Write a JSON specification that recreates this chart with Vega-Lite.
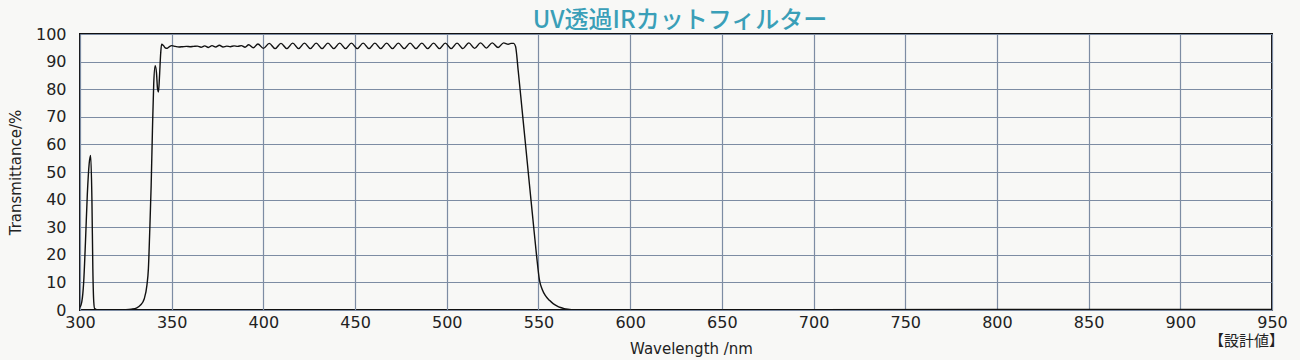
{
  "$schema": "https://vega.github.io/schema/vega-lite/v6.json",
  "width": 1192,
  "height": 276,
  "autosize": {"type": "none"},
  "padding": {"left": 80, "top": 34, "right": 28, "bottom": 50},
  "background": "#f8f8f6",
  "config": {
    "view": {"stroke": "#111111", "strokeWidth": 2},
    "font": "DejaVu Sans",
    "axis": {"labelFont": "DejaVu Sans", "titleFont": "DejaVu Sans", "labelColor": "#222222", "titleColor": "#222222", "titleFontWeight": "normal"}
  },
  "title": {
    "text": "UV透過IRカットフィルター",
    "color": "#3a9fb8",
    "fontSize": 24,
    "font": "Noto Sans CJK JP",
    "fontWeight": 500,
    "anchor": "middle",
    "offset": -7,
    "dx": 4
  },
  "encoding": {
    "x": {"field": "wl", "type": "quantitative",
      "scale": {"domain": [300, 950], "nice": false, "zero": false},
      "axis": {"values": [300,350,400,450,500,550,600,650,700,750,800,850,900,950], "title": "Wavelength /nm", "titleFontSize": 15, "titlePadding": 11, "titleX": 611, "labelFontSize": 16, "labelPadding": 4, "ticks": false, "domain": false, "grid": true, "gridColor": "#7d8ca3", "gridWidth": 1.2, "gridOpacity": 1, "labelFlush": false, "labelOverlap": false}},
    "y": {"field": "t", "type": "quantitative",
      "scale": {"domain": [0, 100], "nice": false},
      "axis": {"values": [0,10,20,30,40,50,60,70,80,90,100], "title": "Transmittance/%", "titleFontSize": 15, "titlePadding": 12, "labelFontSize": 16, "labelPadding": 14, "ticks": false, "domain": false, "grid": true, "gridColor": "#7d8ca3", "gridWidth": 1.2, "gridOpacity": 1, "labelFlush": false, "labelOverlap": false}}
  },
  "layer": [
    {
      "data": {"values": [
        {"wl":300,"t":1},{"wl":301,"t":3},{"wl":302,"t":10},{"wl":303,"t":25},{"wl":304,"t":42},{"wl":305,"t":53},{"wl":305.8,"t":56},{"wl":306.5,"t":40},{"wl":307,"t":15},{"wl":307.5,"t":3},{"wl":308,"t":0.5},{"wl":310,"t":0},{"wl":320,"t":0},{"wl":325,"t":0.1},{"wl":328,"t":0.3},{"wl":331,"t":0.8},{"wl":333,"t":1.8},{"wl":335,"t":4},{"wl":336.5,"t":9},{"wl":337.3,"t":15},{"wl":338,"t":28},{"wl":338.8,"t":45},{"wl":339.5,"t":65},{"wl":340.2,"t":82},{"wl":341,"t":88.5},{"wl":341.7,"t":86},{"wl":342.3,"t":80},{"wl":342.8,"t":79},{"wl":343.3,"t":84},{"wl":344,"t":93},{"wl":344.5,"t":96.3},{"wl":345.5,"t":95.8},{"wl":346.5,"t":95},{"wl":347.5,"t":94.8},{"wl":348.5,"t":95.3},{"wl":350,"t":95.8},{"wl":352,"t":95.5},{"wl":354,"t":95.3},{"wl":356,"t":95.4},{"wl":358,"t":95.5},{"wl":360,"t":95.4},{"wl":362,"t":95.5},{"wl":364,"t":95.6},{"wl":366,"t":95.2},{"wl":368,"t":95.7},{"wl":370,"t":95.1},{"wl":372,"t":95.8},{"wl":374,"t":95.3},{"wl":376,"t":95.9},{"wl":378,"t":95.3},{"wl":380,"t":95.6},{"wl":382,"t":95.4},{"wl":384,"t":95.7},{"wl":386,"t":95.5},{"wl":388,"t":95.8},{"wl":390,"t":95.2},{"wl":392,"t":96.1},{"wl":394.5,"t":95.0},{"wl":397,"t":96.4},{"wl":400,"t":94.8},{"wl":403.2,"t":96.6},{"wl":406.4,"t":94.7},{"wl":409.6,"t":96.6},{"wl":412.8,"t":94.7},{"wl":416,"t":96.7},{"wl":419.2,"t":94.7},{"wl":422.4,"t":96.7},{"wl":425.6,"t":94.7},{"wl":428.8,"t":96.7},{"wl":432,"t":94.7},{"wl":435.2,"t":96.7},{"wl":438.4,"t":94.7},{"wl":441.6,"t":96.7},{"wl":444.8,"t":94.7},{"wl":448,"t":96.7},{"wl":451.2,"t":94.7},{"wl":454.4,"t":96.7},{"wl":457.6,"t":94.7},{"wl":460.8,"t":96.7},{"wl":464,"t":94.7},{"wl":467.2,"t":96.7},{"wl":470.4,"t":94.7},{"wl":473.6,"t":96.7},{"wl":476.8,"t":94.7},{"wl":480,"t":96.7},{"wl":483.2,"t":94.7},{"wl":486.4,"t":96.7},{"wl":489.6,"t":94.7},{"wl":492.8,"t":96.7},{"wl":496,"t":94.7},{"wl":499.2,"t":96.7},{"wl":502.4,"t":94.7},{"wl":505.6,"t":96.7},{"wl":508.8,"t":94.7},{"wl":512,"t":96.8},{"wl":515.2,"t":94.8},{"wl":518.4,"t":96.8},{"wl":521.6,"t":94.9},{"wl":524.8,"t":96.8},{"wl":528,"t":95.1},{"wl":531,"t":96.8},{"wl":533.5,"t":96.3},{"wl":535,"t":96.6},{"wl":536.5,"t":96.6},{"wl":537.5,"t":95.5},{"wl":539,"t":86.4},{"wl":541,"t":73},{"wl":543,"t":59.6},{"wl":545,"t":46},{"wl":547,"t":32.7},{"wl":549,"t":19.5},{"wl":550.5,"t":11},{"wl":552,"t":7.5},{"wl":554,"t":5},{"wl":556,"t":3.5},{"wl":558,"t":2.3},{"wl":560,"t":1.5},{"wl":562,"t":0.9},{"wl":564,"t":0.5},{"wl":566,"t":0.25},{"wl":568,"t":0.1},{"wl":570,"t":0.05},{"wl":600,"t":0},{"wl":700,"t":0.1},{"wl":800,"t":0.2},{"wl":950,"t":0.2}
      ]},
      "mark": {"type": "line", "color": "#111111", "strokeWidth": 1.4, "interpolate": "monotone", "clip": true}
    },
    {
      "data": {"values": [{"wl": 950, "t": 0, "label": "【設計値】"}]},
      "mark": {"type": "text", "font": "Noto Sans CJK JP", "fontSize": 15, "color": "#222222", "align": "right", "baseline": "top", "dy": 24, "dx": 12},
      "encoding": {
        "text": {"field": "label"}
      }
    }
  ]
}
